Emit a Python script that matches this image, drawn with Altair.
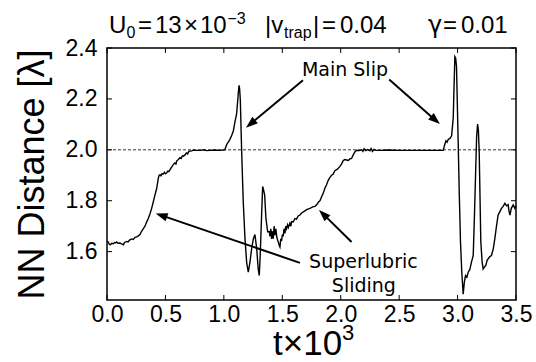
import math
import altair as alt
import pandas as pd

# ---------------- data ----------------
t_vals = [
    0.000, 0.011, 0.020, 0.030, 0.040, 0.054, 0.065, 0.075, 0.083, 0.095,
    0.111, 0.125, 0.140, 0.150, 0.168, 0.180, 0.195, 0.211, 0.225, 0.240,
    0.254, 0.268, 0.282, 0.296, 0.311, 0.325, 0.339, 0.353, 0.368, 0.382,
    0.396, 0.410, 0.425, 0.439, 0.446, 0.453, 0.462, 0.470, 0.482, 0.492,
    0.500, 0.510, 0.520, 0.530, 0.539, 0.553, 0.567, 0.580, 0.590, 0.596,
    0.610, 0.624, 0.635, 0.645, 0.653, 0.668, 0.675, 0.682, 0.690, 0.700,
    0.710, 0.725, 0.738, 0.760, 0.796, 0.830, 0.850, 0.881, 0.920, 0.967,
    1.009, 1.024, 1.038, 1.052, 1.066, 1.081, 1.095, 1.109, 1.118, 1.123,
    1.130, 1.135, 1.141, 1.152, 1.166, 1.181, 1.195, 1.209, 1.223, 1.238,
    1.252, 1.266, 1.281, 1.294, 1.303, 1.311, 1.323, 1.332, 1.337, 1.349,
    1.360, 1.375, 1.389, 1.394, 1.402, 1.409, 1.416, 1.423, 1.430, 1.437,
    1.445, 1.452, 1.460, 1.466, 1.473, 1.480, 1.487, 1.494, 1.501, 1.508,
    1.515, 1.523, 1.530, 1.537, 1.545, 1.552, 1.565, 1.573, 1.580, 1.594,
    1.608, 1.622, 1.636, 1.651, 1.665, 1.680, 1.694, 1.708, 1.737, 1.760,
    1.780, 1.794, 1.810, 1.822, 1.836, 1.851, 1.865, 1.879, 1.893, 1.908,
    1.922, 1.936, 1.950, 1.965, 1.979, 1.993, 2.008, 2.022, 2.036, 2.050,
    2.065, 2.080, 2.093, 2.105, 2.121, 2.136, 2.160, 2.180, 2.190, 2.200,
    2.215, 2.230, 2.250, 2.260, 2.272, 2.285, 2.300, 2.350, 2.400, 2.500,
    2.600, 2.700, 2.800, 2.877, 2.890, 2.900, 2.910, 2.920, 2.935, 2.949,
    2.956, 2.963, 2.970, 2.977, 2.984, 2.991, 3.005, 3.015, 3.025, 3.036,
    3.048, 3.058, 3.068, 3.080, 3.091, 3.105, 3.119, 3.134, 3.145, 3.154,
    3.163, 3.171, 3.178, 3.185, 3.199, 3.210, 3.219, 3.230, 3.242, 3.252,
    3.262, 3.275, 3.290, 3.305, 3.319, 3.333, 3.347, 3.360, 3.376, 3.390,
    3.405, 3.420, 3.433, 3.440, 3.448, 3.460, 3.476, 3.490, 3.500,
]
nn_vals = [
    1.640, 1.638, 1.628, 1.627, 1.633, 1.631, 1.636, 1.634, 1.638, 1.633,
    1.634, 1.630, 1.627, 1.636, 1.640, 1.638, 1.646, 1.650, 1.648, 1.656,
    1.658, 1.662, 1.667, 1.680, 1.690, 1.700, 1.716, 1.730, 1.749, 1.770,
    1.795, 1.822, 1.848, 1.888, 1.900, 1.902, 1.898, 1.906, 1.905, 1.912,
    1.906, 1.909, 1.916, 1.914, 1.922, 1.932, 1.942, 1.948, 1.944, 1.956,
    1.962, 1.969, 1.966, 1.976, 1.975, 1.980, 1.986, 1.988, 1.984, 1.994,
    1.995, 1.996, 1.999, 1.998, 1.998, 2.000, 1.997, 1.998, 1.999, 1.998,
    2.000, 2.021, 2.030, 2.041, 2.055, 2.074, 2.110, 2.141, 2.190, 2.220,
    2.253, 2.240, 2.194, 2.000, 1.795, 1.650, 1.558, 1.519, 1.558, 1.612,
    1.650, 1.667, 1.612, 1.532, 1.506, 1.585, 1.743, 1.856, 1.848, 1.823,
    1.731, 1.678, 1.678, 1.660, 1.690, 1.650, 1.680, 1.651, 1.700, 1.665,
    1.690, 1.660, 1.645, 1.638, 1.625, 1.618, 1.650, 1.642, 1.668, 1.660,
    1.690, 1.672, 1.700, 1.690, 1.705, 1.695, 1.712, 1.700, 1.718, 1.717,
    1.730, 1.728, 1.740, 1.744, 1.752, 1.756, 1.760, 1.765, 1.770, 1.776,
    1.778, 1.784, 1.795, 1.800, 1.815, 1.830, 1.850, 1.863, 1.880, 1.892,
    1.900, 1.905, 1.918, 1.922, 1.928, 1.935, 1.945, 1.958, 1.962, 1.960,
    1.958, 1.965, 1.966, 1.978, 1.992, 1.998, 1.997, 2.000, 1.994, 2.004,
    1.997, 2.001, 1.996, 2.005, 1.994, 2.002, 1.998, 1.998, 1.999, 1.998,
    1.998, 1.998, 1.998, 1.998, 2.020, 2.035, 2.030, 2.041, 2.045, 2.055,
    2.090, 2.127, 2.250, 2.366, 2.360, 2.326, 2.035, 1.820, 1.638, 1.520,
    1.433, 1.480, 1.506, 1.500, 1.519, 1.530, 1.559, 1.585, 1.750, 1.903,
    2.050, 2.101, 2.080, 1.995, 1.638, 1.560, 1.532, 1.540, 1.546, 1.565,
    1.572, 1.580, 1.585, 1.610, 1.651, 1.700, 1.744, 1.755, 1.770, 1.778,
    1.790, 1.780, 1.784, 1.760, 1.744, 1.770, 1.784, 1.770, 1.780,
]

x_ticks = [0.0, 0.5, 1.0, 1.5, 2.0, 2.5, 3.0, 3.5]
y_ticks = [1.6, 1.8, 2.0, 2.2, 2.4]
ref_level = [2.0]

# annotation arrows (tail -> tip) in data units
arrow_tail_t = [1.677, 2.415, 1.651, 2.093]
arrow_tail_y = [2.273, 2.276, 1.556, 1.638]
arrow_tip_t = [1.189, 2.849, 0.417, 1.814]
arrow_tip_y = [2.087, 2.101, 1.750, 1.764]

label_text = ["Main Slip", "Superlubric", "Sliding"]
label_t = [2.036, 2.194, 2.198]
label_y = [2.290, 1.535, 1.440]

# ---------------- layout ----------------
W, H = 409, 252
X_DOM = [0, 3.5]
Y_DOM = [1.41, 2.4]
SX = W / (X_DOM[1] - X_DOM[0])
SY = H / (Y_DOM[1] - Y_DOM[0])
FONT = "Liberation Sans"

xs = alt.Scale(domain=X_DOM, nice=False, zero=False)
ys = alt.Scale(domain=Y_DOM, nice=False, zero=False)

x_axis = alt.Axis(values=x_ticks, format=".1f", title=None,
                  labelPadding=3, labelFlush=False)
y_axis = alt.Axis(values=y_ticks, format=".1f", title="NN Distance [λ]",
                  titleX=-64, titleY=H / 2, titleAngle=270,
                  titleBaseline="alphabetic", titleAlign="center",
                  labelPadding=10, labelFlush=False)


def X(field):
    return alt.X(field, scale=xs, axis=x_axis)


def Y(field):
    return alt.Y(field, scale=ys, axis=y_axis)


line_df = pd.DataFrame({"t": t_vals, "d": nn_vals, "i": list(range(len(t_vals)))})

main = alt.Chart(line_df).mark_line(color="black", strokeWidth=1.4).encode(
    x=X("t:Q"), y=Y("d:Q"), order="i:Q",
)

ref = alt.Chart(pd.DataFrame({"v": ref_level})).mark_rule(
    color="black", strokeWidth=0.8, strokeDash=[3, 2]
).encode(y=Y("v:Q"))

# inward ticks on all four sides
xt = pd.DataFrame({"v": x_ticks})
yt = pd.DataFrame({"v": y_ticks})
TL = 5
tick_layers = [
    alt.Chart(xt).mark_rule(color="black", strokeWidth=1).encode(
        x=X("v:Q"), y=alt.value(H), y2=alt.value(H - TL)),
    alt.Chart(xt).mark_rule(color="black", strokeWidth=1).encode(
        x=X("v:Q"), y=alt.value(0), y2=alt.value(TL)),
    alt.Chart(yt).mark_rule(color="black", strokeWidth=1).encode(
        y=Y("v:Q"), x=alt.value(0), x2=alt.value(TL)),
    alt.Chart(yt).mark_rule(color="black", strokeWidth=1).encode(
        y=Y("v:Q"), x=alt.value(W - TL), x2=alt.value(W)),
]

# arrows
HEAD = 6.0
rows = []
for a, b, c, d in zip(arrow_tail_t, arrow_tail_y, arrow_tip_t, arrow_tip_y):
    dx = (c - a) * SX
    dy = -(d - b) * SY
    L = math.hypot(dx, dy)
    ux, uy = dx / L, dy / L
    ang = math.degrees(math.atan2(dx, -dy)) % 360
    rows.append({"t0": a, "y0": b,
                 "t1": c - HEAD * ux / SX, "y1": d + HEAD * uy / SY,
                 "tt": c, "ty": d, "ang": ang})
arrow_df = pd.DataFrame(rows)

shafts = alt.Chart(arrow_df).mark_rule(color="black", strokeWidth=2).encode(
    x=X("t0:Q"), x2="t1:Q", y=Y("y0:Q"), y2="y1:Q")

heads = alt.Chart(arrow_df).mark_point(
    shape="M0,0L0.5,1.4L-0.5,1.4Z", filled=True, color="black", opacity=1,
    size=289, strokeWidth=0
).encode(
    x=X("tt:Q"), y=Y("ty:Q"),
    angle=alt.Angle("ang:Q", scale=None),
)

labels = alt.Chart(pd.DataFrame({"t": label_t, "y": label_y, "s": label_text})).mark_text(
    font="DejaVu Sans", fontSize=19, color="black", align="center", baseline="alphabetic"
).encode(x=X("t:Q"), y=Y("y:Q"), text="s:N")

# text pieces (title and x-axis title): (text, x in page px, baseline in page px, size, font)
text_pieces = [
    ("U", 109, 33, 24, FONT), ("0", 126.5, 38, 16, FONT), ("=", 138, 33, 24, FONT),
    ("13", 155, 33, 24, FONT), ("×", 184, 33, 24, FONT), ("10", 200, 33, 24, FONT),
    ("−3", 227.5, 24, 16, FONT),
    ("|v", 265, 33, 24, FONT), ("trap", 284, 38, 16, FONT), ("|", 313, 33, 24, FONT),
    ("=", 322, 33, 24, FONT), ("0.04", 340, 33, 24, FONT),
    ("γ", 428, 33, 24, "DejaVu Sans"), ("=", 443, 33, 24, FONT), ("0.01", 461, 33, 24, FONT),
    ("t×10", 273, 355, 35, FONT), ("3", 342, 340, 22, FONT),
]
PAD_L, PAD_T = 107, 48
text_layers = []
for txt, px, py, fs, fnt in text_pieces:
    text_layers.append(
        alt.Chart(pd.DataFrame({"s": [txt]})).mark_text(
            font=fnt, fontSize=fs, color="black", align="left", baseline="alphabetic"
        ).encode(x=alt.value(px - PAD_L), y=alt.value(py - PAD_T), text="s:N")
    )

chart = alt.layer(main, ref, *tick_layers, shafts, heads, labels, *text_layers).properties(
    width=W, height=H,
    padding={"left": PAD_L, "top": PAD_T, "right": 536 - PAD_L - W, "bottom": 362 - PAD_T - H},
    autosize=alt.AutoSizeParams(type="none"),
    background="white",
).configure_view(
    stroke="black", strokeWidth=1.5
).configure_axis(
    ticks=False, domain=False, grid=False,
    labelFont=FONT, labelFontSize=23, labelColor="black",
    titleFont=FONT, titleFontSize=36, titleFontWeight="normal", titleColor="black",
)

chart.save("out.html", embed_options={"renderer": "svg", "actions": False})
